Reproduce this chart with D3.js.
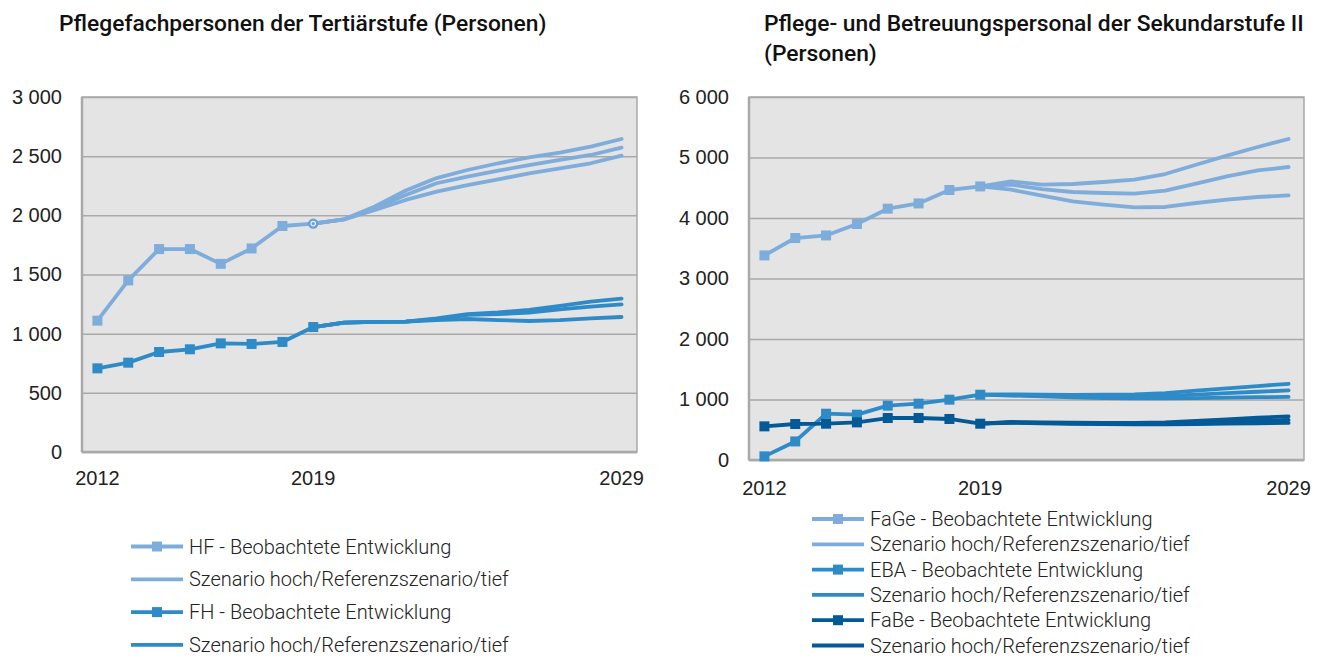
<!DOCTYPE html>
<html>
<head>
<meta charset="utf-8">
<script src="https://cdn.jsdelivr.net/npm/d3@7"></script>
<style>
  html, body { margin: 0; padding: 0; background: #fff; }
  svg { display: block; font-family: Roboto, "Noto Sans", sans-serif; }
</style>
</head>
<body>
<svg id="chart" width="1322" height="657"></svg>
<script>
// Years shown on the horizontal axis (categories)
const years = d3.range(2012, 2030);
const xTickYears = [2012, 2019, 2029];
const observedYears = d3.range(2012, 2020);
const scenarioYears = d3.range(2019, 2030);

// Left panel: tertiary level nursing staff
const leftTicks = [0, 500, 1000, 1500, 2000, 2500, 3000];
const hfObserved = [1110, 1450, 1715, 1715, 1590, 1720, 1910, 1930];
const hfHigh = [1930, 1966, 2075, 2210, 2315, 2383, 2440, 2490, 2530, 2580, 2645];
const hfRef  = [1930, 1966, 2059, 2172, 2271, 2327, 2377, 2425, 2468, 2510, 2572];
const hfLow  = [1930, 1966, 2045, 2130, 2200, 2256, 2304, 2355, 2397, 2440, 2504];
const fhObserved = [707, 755, 845, 868, 918, 913, 930, 1056];
const fhHigh = [1056, 1093, 1099, 1101, 1130, 1166, 1180, 1200, 1234, 1270, 1296];
const fhRef  = [1056, 1093, 1099, 1101, 1122, 1158, 1166, 1177, 1206, 1228, 1248];
const fhLow  = [1056, 1093, 1099, 1101, 1115, 1124, 1115, 1107, 1115, 1130, 1141];

// Right panel: upper secondary level care staff
const rightTicks = [0, 1000, 2000, 3000, 4000, 5000, 6000];
const fageObserved = [3382, 3669, 3712, 3901, 4154, 4241, 4463, 4522];
const fageHigh = [4522, 4605, 4550, 4562, 4595, 4633, 4727, 4881, 5030, 5174, 5306];
const fageRef  = [4522, 4550, 4479, 4430, 4413, 4402, 4451, 4567, 4688, 4787, 4843];
const fageLow  = [4522, 4468, 4369, 4275, 4220, 4175, 4182, 4248, 4302, 4347, 4374];
const ebaObserved = [60, 307, 765, 749, 898, 931, 997, 1079];
const ebaHigh = [1079, 1085, 1080, 1078, 1080, 1085, 1105, 1145, 1185, 1222, 1260];
const ebaRef  = [1079, 1075, 1065, 1055, 1050, 1050, 1060, 1080, 1105, 1128, 1150];
const ebaLow  = [1079, 1065, 1050, 1035, 1025, 1018, 1018, 1022, 1030, 1038, 1042];
const fabeObserved = [556, 595, 600, 622, 694, 694, 678, 600];
const fabeHigh = [600, 628, 622, 618, 615, 615, 622, 645, 672, 698, 722];
const fabeRef  = [600, 622, 614, 606, 600, 598, 603, 616, 630, 645, 662];
const fabeLow  = [600, 616, 606, 598, 592, 588, 590, 595, 600, 606, 612];

const colLight = "#7eaddb";
const colMid = "#2e8bc8";
const colDark = "#035a96";

const svg = d3.select("#chart");
const fmt = d => d3.format(",")(d).replace(/,/g, " ");

function drawPanel(cfg) {
  const g = svg.append("g");
  const x = d3.scaleBand().domain(years).range([cfg.left, cfg.right]);
  const y = d3.scaleLinear().domain([0, d3.max(cfg.ticks)]).range([cfg.bottom, cfg.top]);
  const cx = yr => x(yr) + x.bandwidth() / 2;

  // plot background
  g.append("rect")
    .attr("x", cfg.left).attr("y", cfg.top)
    .attr("width", cfg.right - cfg.left).attr("height", cfg.bottom - cfg.top)
    .attr("fill", "#e4e4e4")
    .attr("stroke", "#a9a9a9").attr("stroke-width", 1.5);

  // horizontal gridlines and value axis
  const yAxis = d3.axisLeft(y).tickValues(cfg.ticks).tickSize(-(cfg.right - cfg.left))
    .tickPadding(20).tickFormat(fmt);
  const ya = g.append("g").attr("transform", `translate(${cfg.left},0)`).call(yAxis);
  ya.select(".domain").remove();
  ya.selectAll(".tick line").attr("stroke", "#a9a9a9").attr("stroke-width", 1.5);
  ya.selectAll(".tick text")
    .attr("fill", "#222").attr("font-size", 20).attr("font-weight", 300);

  // left and bottom axis lines
  g.append("line").attr("x1", cfg.left).attr("x2", cfg.left)
    .attr("y1", cfg.top).attr("y2", cfg.bottom)
    .attr("stroke", "#a9a9a9").attr("stroke-width", 2.5);
  g.append("line").attr("x1", cfg.left).attr("x2", cfg.right)
    .attr("y1", cfg.bottom).attr("y2", cfg.bottom)
    .attr("stroke", "#a9a9a9").attr("stroke-width", 2.5);

  // category axis labels
  const xAxis = d3.axisBottom(x).tickValues(xTickYears).tickSize(0).tickPadding(cfg.xPad);
  const xa = g.append("g").attr("transform", `translate(0,${cfg.bottom})`).call(xAxis);
  xa.select(".domain").remove();
  xa.selectAll(".tick text").attr("fill", "#222").attr("font-size", 20).attr("font-weight", 300);

  const line = d3.line().x(d => cx(d[0])).y(d => y(d[1]));

  cfg.series.forEach(s => {
    // scenario lines (high / reference / low)
    [s.high, s.ref, s.low].forEach(vals => {
      g.append("path")
        .datum(scenarioYears.map((yr, i) => [yr, vals[i]]))
        .attr("d", line)
        .attr("fill", "none").attr("stroke", s.color)
        .attr("stroke-width", 3.8).attr("stroke-linejoin", "round").attr("stroke-linecap", "round");
    });
  });
  cfg.series.forEach(s => {
    const pts = observedYears.map((yr, i) => [yr, s.observed[i]]);
    g.append("path").datum(pts).attr("d", line)
      .attr("fill", "none").attr("stroke", s.color)
      .attr("stroke-width", 3.8).attr("stroke-linejoin", "round");
    g.selectAll(null).data(pts.filter(p => !(s.ringLast && p[0] === 2019))).enter().append("rect")
      .attr("x", d => cx(d[0]) - 5).attr("y", d => y(d[1]) - 5)
      .attr("width", 10).attr("height", 10)
      .attr("fill", s.color);
    if (s.ringLast) {
      const last = pts[pts.length - 1];
      g.append("circle").attr("cx", cx(last[0])).attr("cy", y(last[1]))
        .attr("r", 5.2).attr("fill", "#6aa0d8");
      g.append("circle").attr("cx", cx(last[0])).attr("cy", y(last[1]))
        .attr("r", 2.2).attr("fill", "none").attr("stroke", "#e9eef6").attr("stroke-width", 1.2);
    }
  });

  // title
  const t = g.append("text").attr("x", cfg.titleX).attr("y", 31)
    .attr("font-size", 22.8).attr("font-weight", 500).attr("fill", "#111");
  cfg.title.forEach((ln, i) => {
    t.append("tspan").attr("x", cfg.titleX).attr("dy", i === 0 ? 0 : 30).text(ln);
  });

  // legend
  const lg = g.append("g");
  cfg.legend.forEach((item, i) => {
    const yy = cfg.legendY + i * cfg.legendStep;
    lg.append("line").attr("x1", cfg.legendX).attr("x2", cfg.legendX + 52)
      .attr("y1", yy).attr("y2", yy)
      .attr("stroke", item.color).attr("stroke-width", 3.8);
    if (item.marker) {
      lg.append("rect").attr("x", cfg.legendX + 26 - 5).attr("y", yy - 5)
        .attr("width", 10).attr("height", 10).attr("fill", item.color);
    }
    lg.append("text").attr("x", cfg.legendX + 58).attr("y", yy)
      .attr("dy", "0.35em").attr("font-size", 20).attr("font-weight", 300)
      .attr("fill", "#222").text(item.label);
  });
}

const scenarioLabel = "Szenario hoch/Referenzszenario/tief";

drawPanel({
  left: 82, right: 637, top: 97, bottom: 452, xPad: 19,
  ticks: leftTicks,
  titleX: 59,
  title: ["Pflegefachpersonen der Tertiärstufe (Personen)"],
  series: [
    { color: colLight, observed: hfObserved, high: hfHigh, ref: hfRef, low: hfLow, ringLast: true },
    { color: colMid, observed: fhObserved, high: fhHigh, ref: fhRef, low: fhLow }
  ],
  legendX: 131, legendY: 546.5, legendStep: 32.8,
  legend: [
    { color: colLight, marker: true, label: "HF - Beobachtete Entwicklung" },
    { color: colLight, marker: false, label: scenarioLabel },
    { color: colMid, marker: true, label: "FH - Beobachtete Entwicklung" },
    { color: colMid, marker: false, label: scenarioLabel }
  ]
});

drawPanel({
  left: 749, right: 1304, top: 97, bottom: 460, xPad: 21,
  ticks: rightTicks,
  titleX: 764,
  title: ["Pflege- und Betreuungspersonal der Sekundarstufe II", "(Personen)"],
  series: [
    { color: colLight, observed: fageObserved, high: fageHigh, ref: fageRef, low: fageLow },
    { color: colMid, observed: ebaObserved, high: ebaHigh, ref: ebaRef, low: ebaLow },
    { color: colDark, observed: fabeObserved, high: fabeHigh, ref: fabeRef, low: fabeLow }
  ],
  legendX: 812, legendY: 519, legendStep: 25.3,
  legend: [
    { color: colLight, marker: true, label: "FaGe - Beobachtete Entwicklung" },
    { color: colLight, marker: false, label: scenarioLabel },
    { color: colMid, marker: true, label: "EBA - Beobachtete Entwicklung" },
    { color: colMid, marker: false, label: scenarioLabel },
    { color: colDark, marker: true, label: "FaBe - Beobachtete Entwicklung" },
    { color: colDark, marker: false, label: scenarioLabel }
  ]
});
</script>
</body>
</html>
